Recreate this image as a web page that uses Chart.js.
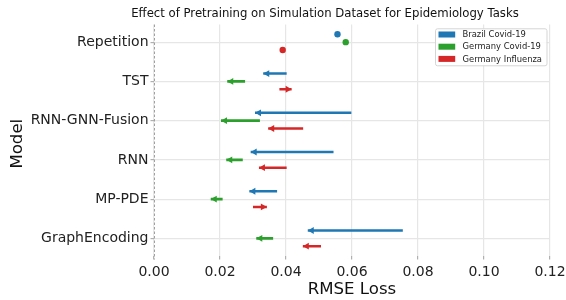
<!DOCTYPE html>
<html>
<head>
<meta charset="utf-8">
<script src="https://cdn.jsdelivr.net/npm/chart.js@4.4.1/dist/chart.umd.min.js"></script>
<style>
  html, body { margin: 0; padding: 0; background: #fff; }
  #wrap { width: 566px; height: 300px; }
</style>
</head>
<body>
<div id="wrap"><canvas id="pretrainChart"></canvas></div>
<script>
// models on the y axis (top to bottom)
const models = ['Repetition', 'TST', 'RNN-GNN-Fusion', 'RNN', 'MP-PDE', 'GraphEncoding'];
const xTicks = [0, 0.02, 0.04, 0.06, 0.08, 0.10, 0.12];

// RMSE without pretraining (arrow start) and with pretraining (arrow tip)
const brazilFrom = [0.0556, 0.0402, 0.0598, 0.0544, 0.0373, 0.0754];
const brazilTo = [0.0556, 0.0331, 0.0306, 0.0293, 0.0289, 0.0466];
const gerCovidFrom = [0.0581, 0.0276, 0.0321, 0.0269, 0.0208, 0.0361];
const gerCovidTo = [0.0581, 0.0222, 0.0203, 0.0219, 0.0172, 0.0310];
const gerFluFrom = [0.0390, 0.0380, 0.0452, 0.0402, 0.0300, 0.0506];
const gerFluTo = [0.0390, 0.0417, 0.0346, 0.0318, 0.0342, 0.0451];

const seriesNames = ['Brazil Covid-19', 'Germany Covid-19', 'Germany Influenza'];
const seriesColors = ['#1f77b4', '#2ca02c', '#d62728'];
const seriesOffsets = [-0.2, 0, 0.2];

const FONT = "'DejaVu Sans', sans-serif";

// build one line dataset per series, each arrow is a two point segment
function buildSeries(idx, from, to) {
  const data = [];
  const kinds = [];
  models.forEach((m, i) => {
    const y = i + seriesOffsets[idx];
    if (from[i] === to[i]) {
      data.push({x: from[i], y: y}); kinds.push('dot');
    } else {
      data.push({x: from[i], y: y}); kinds.push('start');
      data.push({x: to[i], y: y}); kinds.push('end');
    }
    data.push({x: null, y: null}); kinds.push('gap');
  });
  return {
    label: seriesNames[idx],
    data: data,
    kinds: kinds,
    borderColor: seriesColors[idx],
    backgroundColor: seriesColors[idx],
    borderWidth: 2.6,
    borderCapStyle: 'butt',
    spanGaps: false,
    pointRadius: ctx => kinds[ctx.dataIndex] === 'dot' ? 3.2 : 0,
    pointHoverRadius: 0,
    pointBorderWidth: 0
  };
}

const datasets = [
  buildSeries(0, brazilFrom, brazilTo),
  buildSeries(1, gerCovidFrom, gerCovidTo),
  buildSeries(2, gerFluFrom, gerFluTo)
];

// arrow heads at the tip of each segment
const arrowHeads = {
  id: 'arrowHeads',
  afterDatasetsDraw(chart) {
    const ctx = chart.ctx;
    chart.data.datasets.forEach((ds, di) => {
      const meta = chart.getDatasetMeta(di);
      ds.kinds.forEach((k, j) => {
        if (k !== 'end') return;
        const tip = meta.data[j], base = meta.data[j - 1];
        const dir = tip.x < base.x ? -1 : 1;
        const len = 6, half = 3.4;
        ctx.save();
        ctx.fillStyle = ds.borderColor;
        ctx.beginPath();
        ctx.moveTo(tip.x, tip.y);
        ctx.lineTo(tip.x - dir * len, tip.y - half);
        ctx.lineTo(tip.x - dir * len, tip.y + half);
        ctx.closePath();
        ctx.fill();
        ctx.restore();
      });
    });
  }
};

// dashed left spine, drawn under the data
const leftSpine = {
  id: 'leftSpine',
  beforeDatasetsDraw(chart) {
    const ctx = chart.ctx;
    const area = chart.chartArea;
    ctx.save();
    ctx.strokeStyle = '#a0a0a0';
    ctx.lineWidth = 1;
    ctx.setLineDash([2.5, 2]);
    ctx.beginPath();
    ctx.moveTo(area.left + 0.5, area.top);
    ctx.lineTo(area.left + 0.5, area.bottom + 3.5);
    ctx.stroke();
    ctx.restore();
  }
};

// title, y title and boxed legend drawn in the matplotlib style
const decorations = {
  id: 'decorations',
  afterDraw(chart) {
    const ctx = chart.ctx;
    const area = chart.chartArea;
    ctx.save();
    ctx.fillStyle = '#111';
    ctx.font = '11.7px ' + FONT;
    ctx.textAlign = 'center';
    ctx.textBaseline = 'middle';
    ctx.fillText('Effect of Pretraining on Simulation Dataset for Epidemiology Tasks', 325, 14);

    ctx.save();
    ctx.translate(17.5, 143.7);
    ctx.rotate(-Math.PI / 2);
    ctx.font = '16.6px ' + FONT;
    ctx.fillText('Model', 0, 0);
    ctx.restore();

    const boxR = area.right - 3.5, boxT = area.top + 3.8;
    const boxW = 111.5, boxH = 37;
    const boxL = boxR - boxW;
    ctx.fillStyle = 'rgba(255,255,255,0.85)';
    ctx.strokeStyle = '#d5d5d5';
    ctx.lineWidth = 1;
    ctx.beginPath();
    ctx.roundRect(boxL + 0.5, boxT + 0.5, boxW, boxH, 2);
    ctx.fill();
    ctx.stroke();
    ctx.font = '8.4px ' + FONT;
    ctx.textAlign = 'left';
    chart.data.datasets.forEach((ds, i) => {
      const cy = boxT + 6.2 + i * 12.2;
      ctx.fillStyle = ds.borderColor;
      ctx.fillRect(boxL + 3.5, cy - 3, 16.7, 6);
      ctx.fillStyle = '#222';
      ctx.fillText(ds.label, boxL + 27.5, cy + 0.5);
    });
    ctx.restore();
  }
};

new Chart(document.getElementById('pretrainChart'), {
  type: 'line',
  data: { datasets: datasets },
  plugins: [leftSpine, arrowHeads, decorations],
  options: {
    responsive: true,
    maintainAspectRatio: false,
    animation: false,
    layout: { padding: { top: 24.5, right: 16, left: 0, bottom: 0 } },
    plugins: {
      legend: { display: false },
      tooltip: { enabled: false },
      title: { display: false }
    },
    scales: {
      x: {
        type: 'linear',
        min: 0,
        max: 0.12,
        afterBuildTicks: scale => { scale.ticks = xTicks.map(v => ({value: v})); },
        afterFit: scale => { scale.height = 44; scale.paddingLeft = 0; scale.paddingRight = 0; },
        border: { display: false },
        grid: { color: '#e6e6e6', lineWidth: 1.2, tickLength: 3.5, tickColor: '#b0b0b0' },
        ticks: {
          padding: 4.5,
          color: '#222',
          font: { family: FONT, size: 14 },
          callback: v => v.toFixed(2)
        },
        title: {
          display: true,
          text: 'RMSE Loss',
          color: '#111',
          font: { family: FONT, size: 16.6 },
          padding: { top: 0, bottom: 0 }
        }
      },
      y: {
        type: 'linear',
        reverse: true,
        min: -0.45,
        max: 5.45,
        afterBuildTicks: scale => { scale.ticks = models.map((m, i) => ({value: i})); },
        afterFit: scale => { scale.width = 154; scale.paddingTop = 0; scale.paddingBottom = 0; },
        border: { display: false },
        grid: { color: '#e6e6e6', lineWidth: 1.2, tickLength: 3.5, tickColor: '#b0b0b0' },
        ticks: {
          padding: 2,
          color: '#222',
          font: { family: FONT, size: 14 },
          callback: v => models[v]
        },
        title: { display: false }
      }
    }
  }
});
</script>
</body>
</html>
